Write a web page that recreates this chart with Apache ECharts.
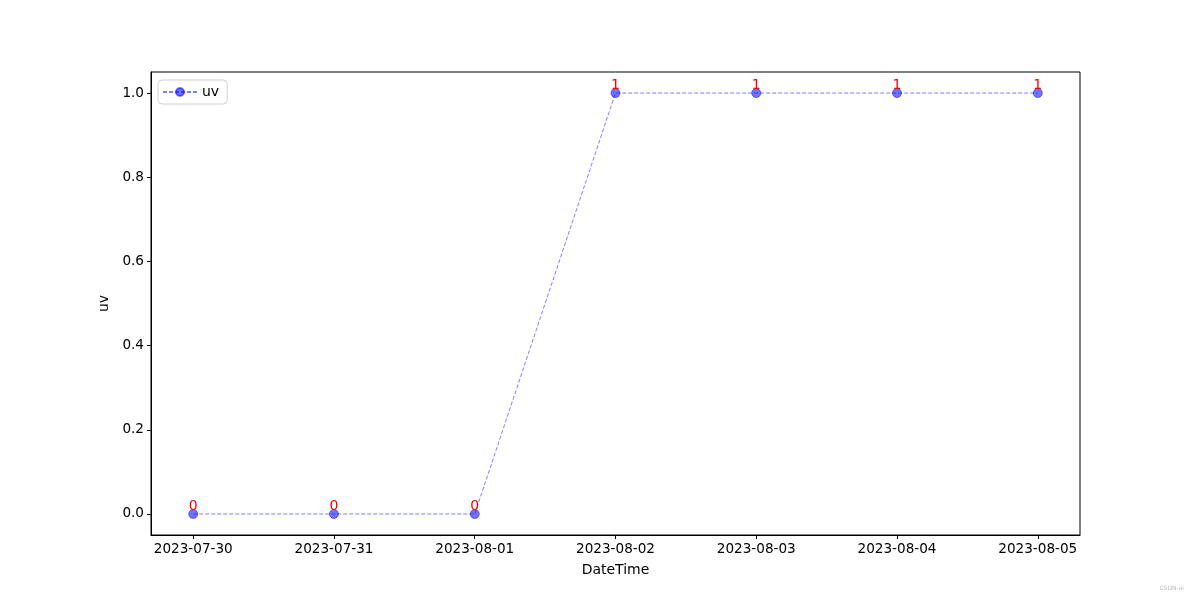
<!DOCTYPE html>
<html><head><meta charset="utf-8">
<script src="https://cdn.jsdelivr.net/npm/echarts@6/dist/echarts.min.js"></script>
<style>html,body{margin:0;padding:0;background:#fff}#c{width:1200px;height:600px}</style>
</head><body><div id="c"></div>
<script>
const categories = ['2023-07-30','2023-07-31','2023-08-01','2023-08-02','2023-08-03','2023-08-04','2023-08-05'];
const uvValues = [0, 0, 0, 1, 1, 1, 1];
const yTicks = [0, 0.2, 0.4, 0.6, 0.8, 1.0];

const chart = echarts.init(document.getElementById('c'));
const idx = categories.map((_, i) => i);
const font = 'DejaVu Sans';
chart.setOption({
  animation: false,
  textStyle: { fontFamily: font },
  grid: { left: 151, right: 120, top: 72, bottom: 65, show: true, borderColor: '#000', borderWidth: 1, backgroundColor: 'transparent' },
  legend: {
    left: 158, top: 80, orient: 'vertical',
    data: ['uv'],
    itemWidth: 34, itemHeight: 10,
    borderColor: '#d0d0d0', borderWidth: 1, borderRadius: 4, padding: [5, 8, 5, 4],
    textStyle: { fontFamily: font, fontSize: 14, color: '#000' }
  },
  xAxis: {
    type: 'value', min: -0.3, max: 6.3,
    name: 'DateTime', nameLocation: 'middle', nameGap: 28,
    nameTextStyle: { fontFamily: font, fontSize: 14, color: '#000' },
    axisLine: { show: true, onZero: false, lineStyle: { color: '#000' } },
    axisTick: { show: true, inside: false, length: 4, lineStyle: { color: '#000' }, customValues: idx },
    axisLabel: { customValues: idx, color: '#000', fontFamily: font, fontSize: 13.6, margin: 7,
      formatter: v => categories[Math.round(v)] },
    splitLine: { show: false }
  },
  yAxis: {
    type: 'value', min: -0.05, max: 1.05,
    name: 'uv', nameLocation: 'middle', nameGap: 40, nameRotate: 90,
    nameTextStyle: { fontFamily: font, fontSize: 14, color: '#000' },
    axisLine: { show: true, onZero: false, lineStyle: { color: '#000' } },
    axisTick: { show: true, inside: false, length: 4, lineStyle: { color: '#000' }, customValues: yTicks },
    axisLabel: { customValues: yTicks, color: '#000', fontFamily: font, fontSize: 13.6, margin: 7,
      formatter: v => v.toFixed(1) },
    splitLine: { show: false }
  },
  series: [{
    name: 'uv', type: 'line',
    data: idx.map(i => [i, uvValues[i]]),
    symbol: 'circle', symbolSize: 9,
    lineStyle: { color: 'rgba(0,0,255,0.5)', width: 1, type: [4, 2] },
    itemStyle: { color: 'rgba(0,0,255,0.55)', borderColor: 'rgba(0,0,255,0.5)', borderWidth: 1 },
    label: { show: true, position: 'top', distance: -4, color: 'red', fontFamily: font, fontSize: 14,
      formatter: p => String(p.value[1]) },
    emphasis: { disabled: true }
  }],
  graphic: [{
    type: 'text', right: 16, top: 585,
    style: { text: 'CSDN-ai', fill: '#bbb', font: '6px ' + font }
  }]
});
</script></body></html>
